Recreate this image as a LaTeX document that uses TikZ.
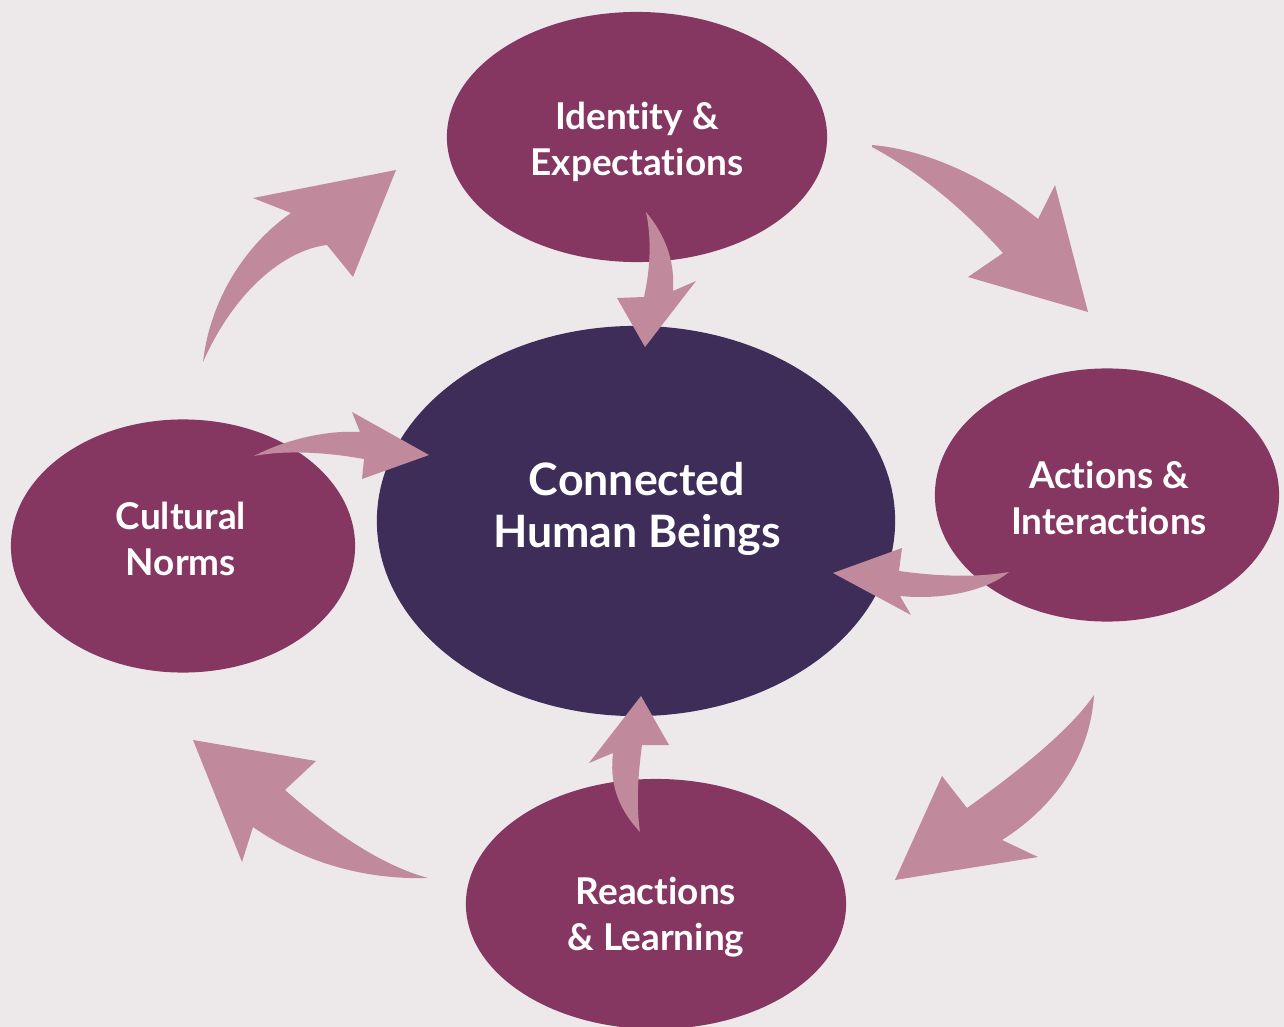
\documentclass[tikz,border=0pt]{standalone}
\usepackage{fontspec}
\setmainfont{Lato}[Ligatures=NoCommon]
\usetikzlibrary{shapes.geometric}
\definecolor{bgGrey}{HTML}{EDE9EA}
\definecolor{outerPlum}{HTML}{853762}
\definecolor{innerPlum}{HTML}{3E2D59}
\definecolor{arrowPink}{HTML}{C08A9C}
\tikzstyle{cOuter} = [ellipse, fill=outerPlum, inner sep=0pt, minimum width=3.8cm, minimum height=2.5cm]
\tikzstyle{cSide} = [cOuter, minimum width=3.44cm, minimum height=2.53cm]
\tikzstyle{cCenter} = [ellipse, fill=innerPlum, inner sep=0pt, minimum width=5.18cm, minimum height=3.9cm]
\tikzstyle{cText} = [text=white, align=center, inner sep=0pt, font=\bfseries\fontsize{10.5}{13.1}\selectfont]
\tikzstyle{cBigText} = [cText, font=\bfseries\fontsize{12.7}{14.8}\selectfont]
\tikzstyle{cArrow} = [fill=arrowPink]

\begin{document}
\begin{tikzpicture}[x=0.01cm, y=-0.01cm]
    \fill[bgGrey] (0,0) rectangle (1284,1027);
    \clip (0,0) rectangle (1284,1027);

    \node (identity) [cOuter] at (637,137) {};
    \node (hub) [cCenter] at (636,521) {};
    \node (actions) [cSide] at (1107,495) {};
    \node (norms) [cSide] at (183,546) {};
    \node (reactions) [cOuter] at (656,904) {};

    % cycle arrows
    \fill [cArrow] (203,362) .. controls (210,300) and (245,245) .. (291,213) -- (253,198) -- (396,170) -- (353,277) -- (327,245) .. controls (285,250) and (235,290) .. (203,362) -- cycle;
    \fill [cArrow] (872,145) .. controls (930,150) and (990,180) .. (1038,219) -- (1055,185) -- (1088,312) -- (968,277) -- (1003,253) .. controls (960,205) and (915,170) .. (872,147) -- cycle;
    \fill [cArrow] (1094,695) .. controls (1090,760) and (1050,810) .. (1002,840) -- (1038,857) -- (895,880) -- (942,776) -- (967,808) .. controls (1020,770) and (1070,730) .. (1094,695) -- cycle;
    \fill [cArrow] (428,878) .. controls (360,880) and (300,860) .. (253,827) -- (242,862) -- (193,740) -- (316,761) -- (285,790) .. controls (330,830) and (380,865) .. (428,878) -- cycle;

    % arrows into the hub
    \fill [cArrow] (646,212) .. controls (665,235) and (675,260) .. (673,291) -- (696,281) -- (645,347) -- (617,298) -- (644,297) .. controls (650,270) and (652,240) .. (646,212) -- cycle;
    \fill [cArrow] (254,456) .. controls (285,440) and (325,430) .. (360,432) -- (352,412) -- (429,455) -- (362,479) -- (364,459) .. controls (325,452) and (285,450) .. (254,456) -- cycle;
    \fill [cArrow] (1009,572) .. controls (975,578) and (935,576) .. (899,571) -- (902,548) -- (833,573) -- (911,615) -- (900,596) .. controls (940,600) and (985,592) .. (1009,572) -- cycle;
    \fill [cArrow] (640,832) .. controls (615,805) and (610,780) .. (613,753) -- (589,763) -- (641,696) -- (669,745) -- (642,745) .. controls (638,775) and (636,805) .. (640,832) -- cycle;

    \node (identityTxt) [cText] at (637,142) {Identity \&\\Expectations};
    \node (hubTxt) [cBigText] at (637,509) {Connected\\Human Beings};
    \node (actionsTxt) [cText] at (1109,498) {Actions \&\\Interactions};
    \node (normsTxt) [cText] at (181,539) {Cultural\\Norms};
    \node (reactionsTxt) [cText] at (656,917) {Reactions\\\& Learning};
\end{tikzpicture}
\end{document}
